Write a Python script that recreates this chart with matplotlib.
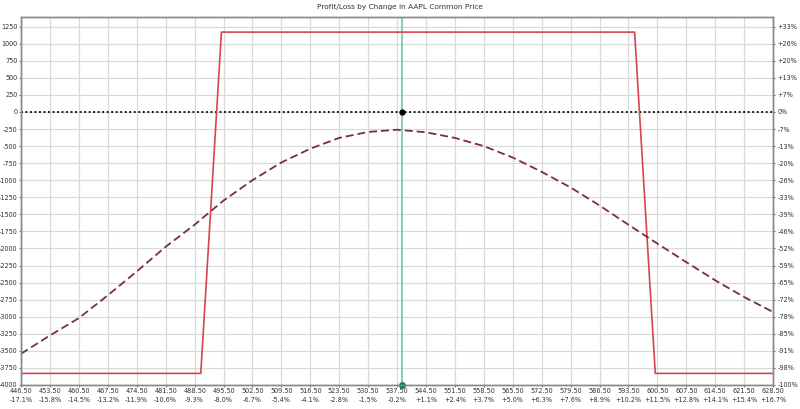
import matplotlib
matplotlib.use("Agg")
import matplotlib.pyplot as plt
from matplotlib import font_manager

# ---- data ----
title = "Profit/Loss by Change in AAPL Common Price"
current_price = 538.6

# Expiration P/L (red)
exp_prices = [446.5, 490.0, 495.0, 595.0, 600.0, 628.5]
exp_pl = [-3830, -3830, 1170, 1170, -3830, -3830]

# Current-date P/L (dashed)
cur_prices = [446.5, 453.5, 460.5, 467.5, 474.5, 481.5, 488.5, 495.5, 502.5, 509.5,
              516.5, 523.5, 530.5, 537.5, 544.5, 551.5, 558.5, 565.5, 572.5, 579.5,
              586.5, 593.5, 600.5, 607.5, 614.5, 621.5, 628.5]
cur_pl = [-3542, -3274, -3020, -2686, -2337, -1975, -1652, -1298, -1000, -740,
          -538, -380, -293, -260, -298, -380, -500, -668, -877, -1106,
          -1370, -1652, -1928, -2200, -2466, -2711, -2931]

x_ticks = [446.5 + 7 * i for i in range(27)]
x_pct = ["-17.1%", "-15.8%", "-14.5%", "-13.2%", "-11.9%", "-10.6%", "-9.3%", "-8.0%",
         "-6.7%", "-5.4%", "-4.1%", "-2.8%", "-1.5%", "-0.2%", "+1.1%", "+2.4%",
         "+3.7%", "+5.0%", "+6.3%", "+7.6%", "+8.9%", "+10.2%", "+11.5%", "+12.8%",
         "+14.1%", "+15.4%", "+16.7%"]
y_ticks = list(range(1250, -4001, -250))
y_pct = ["+33%", "+26%", "+20%", "+13%", "+7%", "0%", "-7%", "-13%", "-20%", "-26%",
         "-33%", "-39%", "-46%", "-52%", "-59%", "-65%", "-72%", "-78%", "-85%",
         "-91%", "-98%", "-100%"]

# pick a narrow font if available
names = {f.name for f in font_manager.fontManager.ttflist}
narrow = "Liberation Sans Narrow" if "Liberation Sans Narrow" in names else "DejaVu Sans"
tick_font = dict(family=[narrow, "DejaVu Sans"], size=5.2, stretch="condensed")

# ---- figure ----
fig = plt.figure(figsize=(8.0, 4.09), dpi=100, facecolor="white")
ax = fig.add_axes([0.0263, 0.0587, 0.9400, 0.8995])
ax.set_xlim(446.5, 628.5)
ax.set_ylim(-4000, 1390)

grid_c = "#d9d9d9"
ax.set_xticks(x_ticks)
ax.set_xticklabels([f"{v:.2f}\n{p}" for v, p in zip(x_ticks, x_pct)],
                   color="#333333", linespacing=1.6, **tick_font)
ax.set_yticks(y_ticks)
ax.set_yticklabels([str(v) for v in y_ticks], color="#333333", **tick_font)
ax.grid(True, color=grid_c, linewidth=0.9)
ax.set_axisbelow(True)
ax.tick_params(axis="both", length=1.5, width=0.6, color="#555555", pad=1)

ax2 = ax.twinx()
ax2.set_ylim(ax.get_ylim())
ax2.set_yticks(y_ticks)
ax2.set_yticklabels(y_pct, color="#333333", **tick_font)
ax2.tick_params(axis="y", length=1.5, width=0.6, color="#555555", pad=1.5)

for a in (ax, ax2):
    for s in a.spines.values():
        s.set_color("#888888")
        s.set_linewidth(1.0)

# zero line
ax.axhline(0, color="black", linestyle=(0, (1, 1.5)), linewidth=1.3, zorder=3)
# current price line
ax.axvline(current_price, color="#7cc8bc", linewidth=1.3, zorder=4)

ax.plot(exp_prices, exp_pl, color="#d9434f", linewidth=1.2, zorder=5)
ax.plot(cur_prices, cur_pl, color="#7a2e3e", linewidth=1.3,
        linestyle=(0, (4.4, 2.2)), zorder=5)

ax.plot([current_price], [0], marker="o", color="black", markersize=3.5, zorder=6)
ax.plot([current_price], [-4000], marker="o", color="#1f7a6a", markersize=4,
        zorder=6, clip_on=False)

fig.text(0.5, 0.982, title, ha="center", va="center", color="#333333",
         family=[narrow, "DejaVu Sans"], size=5.3)

fig.savefig("out.png", dpi=100, facecolor="white")
